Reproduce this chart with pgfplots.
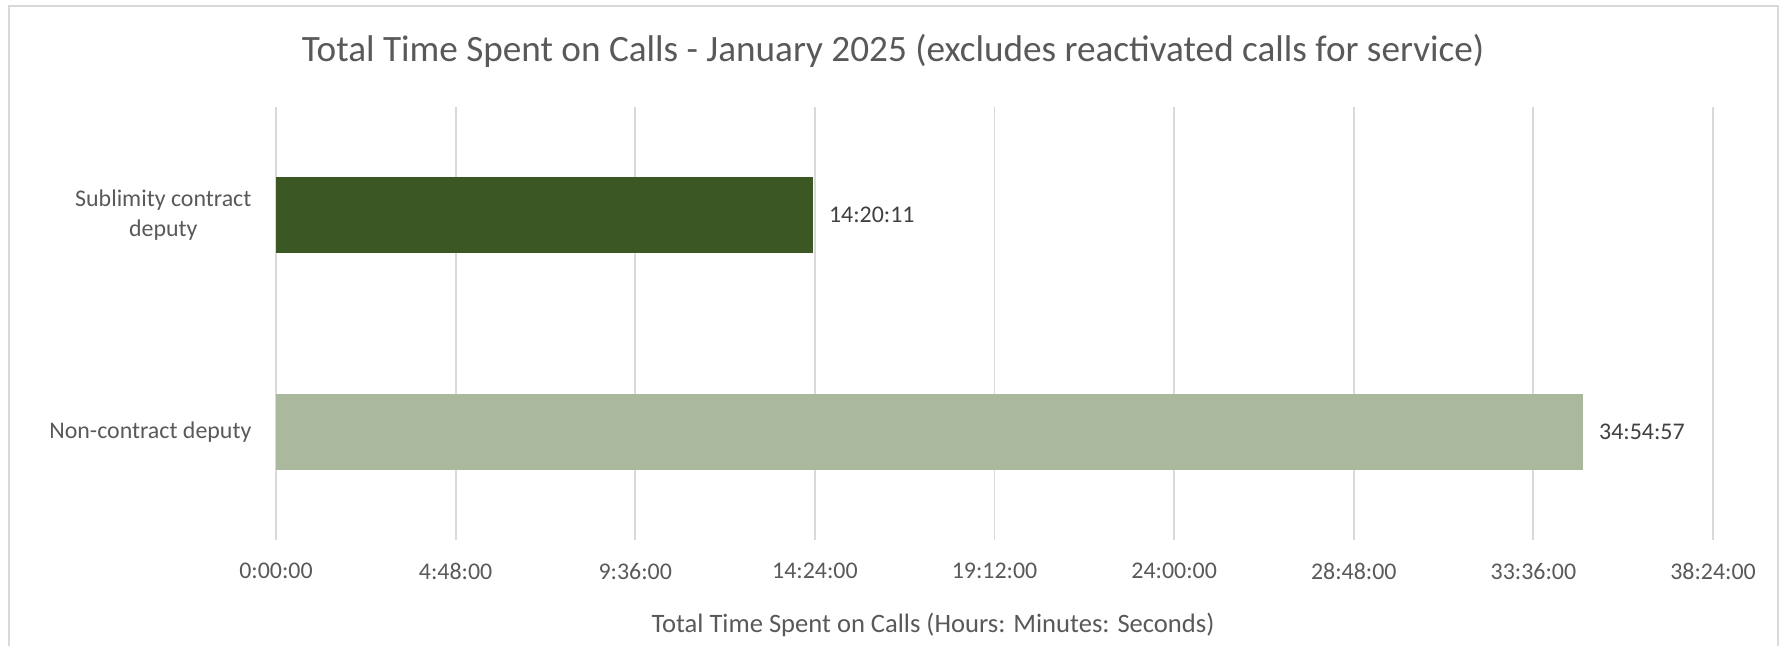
\documentclass[border=0pt]{standalone}
\usepackage{pgfplots}
\pgfplotsset{compat=1.18}
\usepackage{pgfplotstable}
\usepackage{fontspec}
\setmainfont{Carlito}
\definecolor{DarkSage}{HTML}{3B5724}
\definecolor{LightSage}{HTML}{AAB99E}
\definecolor{GridGray}{HTML}{D9D9D9}
\definecolor{LabelGray}{HTML}{595959}
\definecolor{ValueGray}{HTML}{404040}

% hours as decimals, label as shown on the chart
\pgfplotstableread{
x y label
14.3364 1 14:20:11
}\sublimity
\pgfplotstableread{
x y label
34.9158 0 34:54:57
}\noncontract

\begin{document}
\begin{tikzpicture}
\useasboundingbox (-92pt,-35pt) rectangle (501.33pt,180pt);
\draw[GridGray, line width=0.75pt] (-89pt,-60pt) -- (-89pt,178pt) -- (500.7pt,178pt) -- (500.7pt,-60pt);
\begin{axis}[
    at={(0pt,0pt)}, anchor=south west,
    scale only axis, width=479pt, height=144.33pt,
    xbar, bar width=25.33pt, bar shift=0pt,
    xmin=0, xmax=38.4, ymin=-0.5, ymax=1.5,
    xtick={0,4.8,9.6,14.4,19.2,24,28.8,33.6,38.4},
    xticklabels={0:00:00,4:48:00,9:36:00,14:24:00,19:12:00,24:00:00,28:48:00,33:36:00,38:24:00},
    ytick={0,1},
    yticklabels={Non-contract deputy,{Sublimity contract\\deputy}},
    xmajorgrids, grid style={GridGray, line width=0.6pt},
    axis line style={draw=none}, tick style={draw=none},
    major tick length=0pt,
    tick label style={font=\fontsize{7.97}{9.8}\selectfont, text=LabelGray},
    xticklabel style={anchor=north, inner sep=0pt, yshift=-7.6pt},
    yticklabel style={anchor=east, inner sep=0pt, xshift=-8pt, align=center},
    /pgf/number format/assume math mode=true,
    nodes near coords, point meta=explicit symbolic,
    every node near coord/.append style={anchor=west, inner sep=0pt, xshift=5.3pt,
        font=\fontsize{7.97}{9.8}\selectfont, text=ValueGray},
  ]
  \addplot[fill=DarkSage, draw=none] table[x=x, y=y, meta=label] {\sublimity};
  \addplot[fill=LightSage, draw=none] table[x=x, y=y, meta=label] {\noncontract};
\end{axis}
\node[text=LabelGray, font=\fontsize{12.4}{15}\selectfont] at (205.7pt,163pt)
  {Total Time Spent on Calls - January 2025 (excludes reactivated calls for service)};
\node[text=LabelGray, font=\fontsize{8.86}{11}\selectfont] at (219pt,-28.3pt)
  {Total Time Spent on Calls (Hours: Minutes: Seconds)};
\end{tikzpicture}
\end{document}
